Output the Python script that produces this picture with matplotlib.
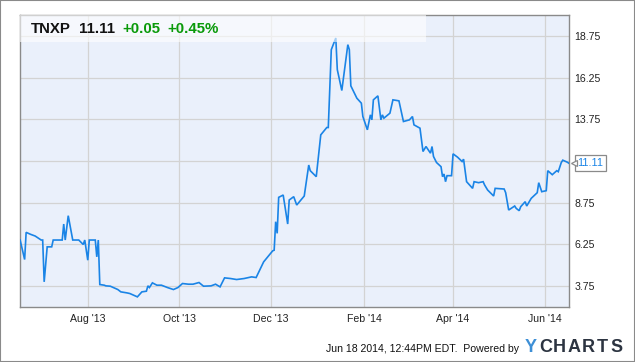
import numpy as np
import pandas as pd
import matplotlib
matplotlib.use("Agg")
import matplotlib.pyplot as plt
import matplotlib.dates as mdates
from matplotlib.transforms import offset_copy

plt.rcParams['font.family'] = ['Liberation Sans', 'DejaVu Sans']

# Données : cours TNXP
dates = ["2013-06-17", "2013-06-20", "2013-06-21", "2013-06-24", "2013-06-27",
         "2013-07-01", "2013-07-02", "2013-07-03", "2013-07-05", "2013-07-08",
         "2013-07-09", "2013-07-15", "2013-07-16", "2013-07-17", "2013-07-19",
         "2013-07-22", "2013-07-26", "2013-07-29", "2013-07-30", "2013-08-01",
         "2013-08-02", "2013-08-06", "2013-08-07", "2013-08-08", "2013-08-09",
         "2013-08-12", "2013-08-13", "2013-08-16", "2013-08-21", "2013-08-23",
         "2013-08-27", "2013-08-29", "2013-09-03", "2013-09-06", "2013-09-09",
         "2013-09-10", "2013-09-11", "2013-09-13", "2013-09-16", "2013-09-19",
         "2013-09-23", "2013-09-27", "2013-09-30", "2013-10-03", "2013-10-07",
         "2013-10-10", "2013-10-14", "2013-10-17", "2013-10-22", "2013-10-25",
         "2013-10-28", "2013-10-31", "2013-11-04", "2013-11-08", "2013-11-13",
         "2013-11-18", "2013-11-21", "2013-11-26", "2013-12-02", "2013-12-03",
         "2013-12-04", "2013-12-05", "2013-12-06", "2013-12-09", "2013-12-12",
         "2013-12-13", "2013-12-16", "2013-12-18", "2013-12-23", "2013-12-26",
         "2013-12-27", "2013-12-31", "2014-01-03", "2014-01-07", "2014-01-08",
         "2014-01-10", "2014-01-13", "2014-01-14", "2014-01-17", "2014-01-21",
         "2014-01-22", "2014-01-23", "2014-01-27", "2014-01-30", "2014-01-31",
         "2014-02-03", "2014-02-05", "2014-02-06", "2014-02-07", "2014-02-10",
         "2014-02-12", "2014-02-13", "2014-02-14", "2014-02-18", "2014-02-20",
         "2014-02-24", "2014-02-27", "2014-03-03", "2014-03-05", "2014-03-06",
         "2014-03-10", "2014-03-12", "2014-03-14", "2014-03-17", "2014-03-18",
         "2014-03-19", "2014-03-21", "2014-03-24", "2014-03-25", "2014-03-26",
         "2014-03-27", "2014-03-28", "2014-03-31", "2014-04-01", "2014-04-04",
         "2014-04-07", "2014-04-08", "2014-04-10", "2014-04-14", "2014-04-15",
         "2014-04-18", "2014-04-21", "2014-04-22", "2014-04-24", "2014-04-28",
         "2014-04-29", "2014-05-05", "2014-05-06", "2014-05-08", "2014-05-12",
         "2014-05-13", "2014-05-15", "2014-05-16", "2014-05-19", "2014-05-20",
         "2014-05-23", "2014-05-27", "2014-05-28", "2014-05-30", "2014-06-02",
         "2014-06-03", "2014-06-05", "2014-06-06", "2014-06-09", "2014-06-10",
         "2014-06-12", "2014-06-13", "2014-06-16", "2014-06-17"]
prix = [6.50, 5.33, 6.96, 6.84, 6.74,
        6.50, 6.50, 3.99, 6.09, 6.09,
        6.50, 6.50, 7.46, 6.50, 7.96,
        6.50, 6.50, 6.23, 6.50, 5.29,
        6.50, 6.50, 5.49, 6.50, 3.83,
        3.79, 3.75, 3.73, 3.53, 3.39,
        3.33, 3.29, 3.09, 3.39, 3.43,
        3.75, 3.65, 3.93, 3.79, 3.79,
        3.65, 3.53, 3.65, 3.89, 3.85,
        3.85, 3.95, 3.73, 3.75, 3.85,
        3.69, 4.23, 4.19, 4.13, 4.19,
        4.29, 4.25, 5.19, 5.85, 5.89,
        7.60, 6.90, 9.06, 9.20, 7.46,
        8.90, 9.10, 8.60, 9.14, 11.00,
        10.66, 10.30, 12.81, 13.25, 13.25,
        17.92, 18.62, 16.72, 15.47, 18.22,
        17.92, 15.75, 15.01, 14.71, 13.91,
        13.11, 14.01, 13.71, 14.91, 15.15,
        13.71, 14.01, 13.81, 14.11, 14.91,
        14.85, 13.61, 13.71, 13.91, 13.41,
        13.21, 11.81, 12.11, 11.71, 12.11,
        11.51, 11.15, 10.90, 10.30, 10.46,
        10.00, 10.36, 10.36, 11.67, 11.47,
        11.21, 11.35, 10.00, 9.60, 10.00,
        9.94, 10.00, 9.80, 9.50, 9.14,
        9.60, 9.56, 9.34, 8.30, 8.54,
        8.40, 8.26, 8.50, 8.80, 8.54,
        9.00, 9.34, 9.94, 9.40, 9.46,
        10.66, 10.50, 10.42, 10.66, 10.60,
        11.15, 11.29, 11.17, 11.11]

yticks = [3.75, 6.25, 8.75, 11.25, 13.75, 16.25, 18.75]
ytick_labels = ["3.75", "6.25", "8.75", "", "13.75", "16.25", "18.75"]
xticks = ["2013-08-01", "2013-10-01", "2013-12-01", "2014-02-01", "2014-04-01", "2014-06-01"]
xtick_labels = ["Aug '13", "Oct '13", "Dec '13", "Feb '14", "Apr '14", "Jun '14"]

titre = "TNXP"
dernier = "11.11"
variation = "+0.05"
variation_pct = "+0.45%"

W, H = 635, 362
fig = plt.figure(figsize=(W / 100, H / 100), dpi=100)
ax = fig.add_axes([20 / W, 1 - 306.7 / H, 549.3 / W, 291.7 / H])
ax.set_facecolor('#eaf0fb')

d = pd.to_datetime(dates)
ax.plot(d, prix, color='#1a84e6', lw=1.2, zorder=3, solid_joinstyle='miter')

ax.set_xlim(pd.Timestamp("2013-06-16 22:00"), pd.Timestamp("2014-06-17 08:00"))
ax.set_ylim(2.5, 20.0)

ax.set_yticks(yticks)
ax.set_yticklabels(ytick_labels)
ax.set_xticks(pd.to_datetime(xticks))
ax.set_xticklabels(xtick_labels)
ax.yaxis.tick_right()
ax.tick_params(axis='both', length=0, labelsize=7.6, colors='#222222')
ax.tick_params(axis='y', pad=3.5)
ax.tick_params(axis='x', pad=5)
ax.grid(True, color='#d3d3d3', lw=0.9)
ax.set_axisbelow(True)
for s in ax.spines.values():
    s.set_color('#8a8a8a')
    s.set_linewidth(1.0)

# bandeau du titre
ax.axvspan(ax.get_xlim()[0], ax.get_xlim()[0] + 0.739 * (ax.get_xlim()[1] - ax.get_xlim()[0]),
           ymin=0.907, ymax=1.0, facecolor='white', alpha=0.6, lw=0, zorder=4)

fs = 10.8
fig.text(30.5 / W, 1 - 29 / H, titre, fontsize=fs, fontweight='bold', va='center', color='#111111')
fig.text(79 / W, 1 - 29 / H, dernier, fontsize=fs, fontweight='bold', va='center', color='#111111')
fig.text(122.5 / W, 1 - 29 / H, variation, fontsize=fs, fontweight='bold', va='center', color='#0a9a0a')
fig.text(167 / W, 1 - 29 / H, variation_pct, fontsize=fs, fontweight='bold', va='center', color='#0a9a0a')

# étiquette de la dernière valeur
trans = offset_copy(ax.transData, fig=fig, x=8.5, y=0, units='dots')
ax.text(d[-1], prix[-1], dernier, transform=trans, fontsize=7.8, color='#1a84e6',
        va='center', ha='left', clip_on=False, zorder=6,
        bbox=dict(boxstyle='square,pad=0.25', facecolor='white', edgecolor='#8a8a8a', lw=0.9))
trans2 = offset_copy(ax.transData, fig=fig, x=5.5, y=0, units='dots')
ax.plot([d[-1]], [prix[-1]], marker='<', ms=5, mfc='white', mec='#8a8a8a', mew=0.9,
        transform=trans2, clip_on=False, zorder=7)

# pied de page
fig.text(326 / W, 1 - 349 / H, "Jun 18 2014, 12:44PM EDT.  Powered by", fontsize=7.6,
         va='center', ha='left', color='#111111')
for i, c in enumerate("YCHARTS"):
    fig.text((531 + 14.3 * i) / W, 1 - 348 / H, c, fontsize=13, fontweight='heavy',
             va='center', ha='center', color='#3d8fd6' if i == 0 else '#2c3441')

fig.patches.append(plt.Rectangle((0, 0), 1, 1, transform=fig.transFigure, fill=False,
                                 edgecolor='#8a8a8a', lw=1.5))

plt.savefig("out.png", dpi=100)
